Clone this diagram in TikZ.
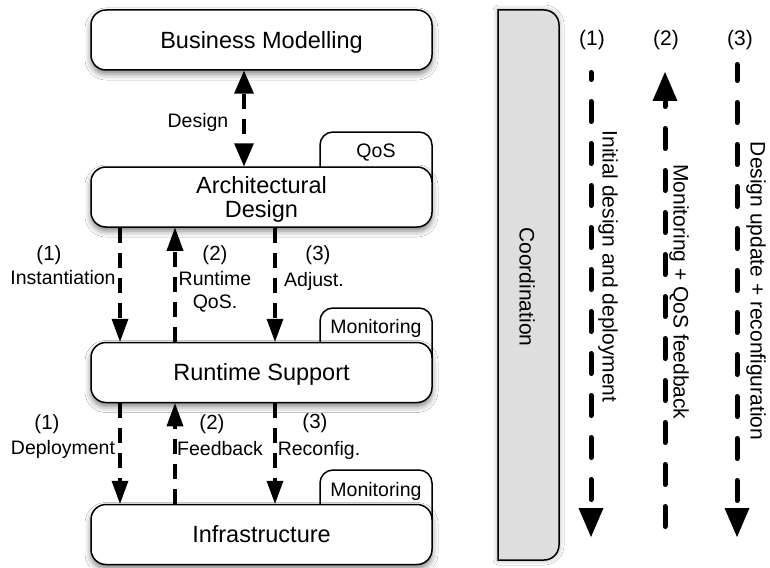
\documentclass[tikz,border=0pt]{standalone}
\usepackage{fontspec}
\setmainfont{Liberation Sans}
\usetikzlibrary{arrows.meta,shadows.blur}
\tikzset{
  box/.style={draw, line width=1.5pt, rounded corners=15pt, fill=white,
    minimum width=341pt, minimum height=60pt, inner sep=0pt,
    font=\fontsize{23.5}{24}\selectfont, text height=16.8pt, text depth=0pt,
    blur shadow={shadow xshift=0pt, shadow yshift=-4pt, shadow blur radius=6pt, shadow opacity=50}},
  boxtxt/.style={inner sep=0pt, font=\fontsize{23.5}{24}\selectfont, text height=16.8pt, text depth=0pt},
  tab/.style={draw, line width=1.5pt, rounded corners=13pt, fill=white},
  tabtxt/.style={inner sep=0pt, font=\fontsize{19.5}{20}\selectfont, text height=14pt, text depth=0pt},
  lbl/.style={inner sep=0pt, font=\fontsize{19.5}{20}\selectfont, text height=14pt, text depth=0pt},
  num/.style={inner sep=0pt, font=\fontsize{20.5}{21}\selectfont, text height=14.7pt, text depth=0pt},
  numR/.style={inner sep=0pt, font=\fontsize{21}{22}\selectfont, text height=15pt, text depth=0pt},
  vlbl/.style={inner sep=0pt, rotate=-90, font=\fontsize{21}{22}\selectfont, text height=15pt, text depth=0pt},
  tipL/.tip={Triangle[width=17pt,length=23pt,line width=0pt,fill=black]},
  tipD/.tip={Triangle[width=20pt,length=23pt,line width=0pt,fill=black]},
  tipR/.tip={Triangle[width=25pt,length=29pt,line width=0pt,fill=black]},
  arrL/.style={line width=4pt, draw=black, fill opacity=1, draw opacity=1, dash pattern=on 15pt off 10pt, -tipL},
  arrD/.style={line width=4pt, draw=black, fill opacity=1, draw opacity=1, dash pattern=on 15pt off 10pt, tipD-tipD},
  arrR/.style={line width=5pt, draw=black, fill opacity=1, draw opacity=1, line cap=round, dash pattern=on 20pt off 22pt, -tipR},
}
\begin{document}
\begin{tikzpicture}[x=1pt,y=-1pt]
\useasboundingbox[fill=white] (0,0) rectangle (770,567);

% tabs (drawn first, boxes cover their lower parts)
\draw[tab] (320,185) -- (320,132) -- (432,132) -- (432,185);
\draw[tab] (320,360) -- (320,308) -- (432,308) -- (432,360);
\draw[tab] (320,520) -- (320,470) -- (432,470) -- (432,520);
\node[tabtxt] (qos) at (376,150) {QoS};
\node[tabtxt] (mon1) at (376,326) {Monitoring};
\node[tabtxt] (mon2) at (376,489) {Monitoring};

% main boxes
\node[box] (bm) at (261.5,40) {Business Modelling};
\node[box] (ad) at (261.5,197) {};
\node[boxtxt] (adt1) at (261.5,185) {Architectural};
\node[boxtxt] (adt2) at (261.5,209) {Design};
\node[box] (rs) at (261.5,372.5) {Runtime Support};
\node[box] (inf) at (261.5,534.5) {Infrastructure};

% coordination bar
\draw[line width=1.5pt, fill={rgb,255:red,222;green,222;blue,222},
  blur shadow={shadow xshift=0pt, shadow yshift=0pt, shadow blur radius=5pt, shadow opacity=40}]
  (498,10) -- (544,10) .. controls (552.3,10) and (559,16.7) .. (559,25)
  -- (559,545) .. controls (559,553.3) and (552.3,560) .. (544,560)
  -- (498,560) -- cycle;
\node[vlbl] (coord) at (527,287) {Coordination};

% columns
\coordinate (cA) at (120,0);
\coordinate (cB) at (175,0);
\coordinate (cC) at (275,0);
\coordinate (cD) at (244,0);

% arrows left
\draw[arrD] (cD |- bm.south) -- (cD |- ad.north);
\draw[arrL] (cA |- ad.south) -- (cA |- rs.north);
\draw[arrL] (cB |- rs.north) -- (cB |- ad.south);
\draw[arrL] (cC |- ad.south) -- (cC |- rs.north);
\draw[arrL] (cA |- rs.south) -- (cA |- inf.north);
\draw[arrL] (cB |- inf.north) -- (cB |- rs.south);
\draw[arrL] (cC |- rs.south) -- (cC |- inf.north);

% labels left
\node[lbl] (ldesign) at (198,121) {Design};
\node[num] (n1a) at (49,253) {(1)};
\node[lbl] (linst) at (63,277) {Instantiation};
\node[num] (n2a) at (215,253) {(2)};
\node[lbl] (lrt) at (215,278) {Runtime};
\node[lbl] (lqos) at (215,301) {QoS.};
\node[num] (n3a) at (318,253) {(3)};
\node[lbl] (ladj) at (314,279) {Adjust.};
\node[num] (n1b) at (47,422) {(1)};
\node[lbl] (ldep) at (63,447) {Deployment};
\node[num] (n2b) at (212,422) {(2)};
\node[lbl] (lfb) at (220,448) {Feedback};
\node[num] (n3b) at (315,421) {(3)};
\node[lbl] (lrec) at (319,448) {Reconfig.};

% right side
\node[numR] (r1) at (592,38) {(1)};
\node[numR] (r2) at (666,38) {(2)};
\node[numR] (r3) at (740,38) {(3)};
\coordinate (r1s) at (591,72.5);
\coordinate (r1e) at (591,537);
\coordinate (r2s) at (665,526.5);
\coordinate (r2e) at (665,72);
\coordinate (r3s) at (737,64.5);
\coordinate (r3e) at (737,537);
\draw[arrR, dash phase=13pt] (r1s) -- (r1e);
\draw[arrR] (r2s) -- (r2e);
\draw[arrR, dash phase=4pt] (r3s) -- (r3e);
\node[vlbl] (t1) at (610,266.5) {Initial design and deployment};
\node[vlbl] (t2) at (681,292) {Monitoring + QoS feedback};
\node[vlbl] (t3) at (758,291) {Design update + reconfiguration};
\end{tikzpicture}
\end{document}
